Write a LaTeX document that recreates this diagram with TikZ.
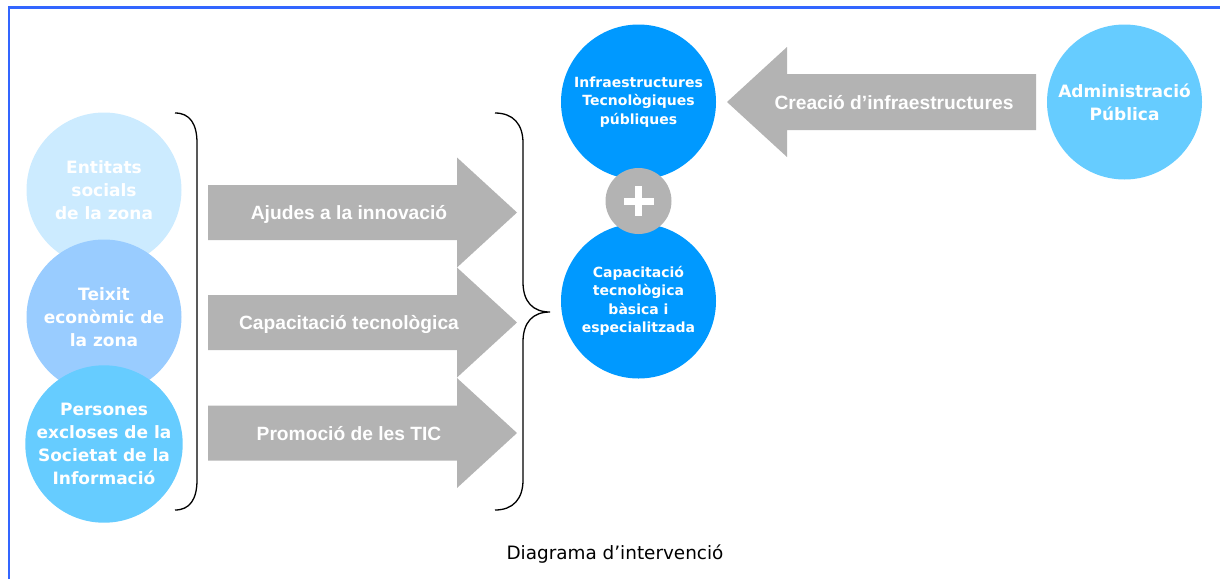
\documentclass[tikz,border=0pt]{standalone}
\usepackage{fontspec}
\setmainfont{DejaVu Sans}
\newfontfamily\circfont{DejaVu Sans}
\newfontfamily\arrfont{Liberation Sans}
\definecolor{frameblue}{HTML}{3366FF}
\definecolor{pale}{HTML}{CCEBFF}
\definecolor{midblue}{HTML}{99CCFF}
\definecolor{skyblue}{HTML}{66CCFF}
\definecolor{deepblue}{HTML}{0099FF}
\definecolor{arrgray}{HTML}{B3B3B3}
\tikzset{
  bubble/.style={circle, minimum size=155pt, inner sep=0pt, align=center, text=white},
  bigtxt/.style={font=\circfont\bfseries\fontsize{17}{23}\selectfont},
  smalltxt/.style={font=\circfont\bfseries\fontsize{14}{18.5}\selectfont},
  arrlabel/.style={text=white, font=\arrfont\bfseries\fontsize{19.2}{22}\selectfont, inner sep=0pt, anchor=base},
  blockarrow/.style={fill=arrgray, draw=none},
  bracketline/.style={draw=black, line width=1.3pt}
}
\begin{document}
\begin{tikzpicture}[x=1pt, y=-1pt]
\useasboundingbox (0,0) rectangle (1220,579);
% frame
\draw[frameblue, line width=2.5pt] (9,579) -- (9,7.5) -- (1220,7.5);

% left circles
\node[bubble, bigtxt, fill=pale] (ent) at (104,190) {Entitats\\socials\\de la zona};
\node[bubble, bigtxt, fill=midblue] (teix) at (104,317) {Teixit\\econòmic de\\la zona};
\node[bubble, bigtxt, fill=skyblue] (pers) at (104,444) {Persones\\excloses de la\\Societat de la\\Informació};

% left bracket
\draw[bracketline] (175,113) .. controls (190,113) and (197,124) .. (197,143) -- (197,480) .. controls (197,499) and (190,510) .. (175,510);

% block arrows
\foreach \yc/\nm in {212.5/a1, 322.5/a2, 433/a3}{
  \fill[blockarrow] (208,\yc-27.5) -- (457,\yc-27.5) -- (457,\yc-55) -- (517,\yc) -- (457,\yc+55) -- (457,\yc+27.5) -- (208,\yc+27.5) -- cycle;
  \coordinate (\nm) at (349,\yc+7);
}
\node[arrlabel] (l1) at (a1) {Ajudes a la innovació};
\node[arrlabel] (l2) at (a2) {Capacitació tecnològica};
\node[arrlabel] (l3) at (a3) {Promoció de les TIC};

% right brace
\draw[bracketline] (495,113) .. controls (513,113) and (523,124) .. (523,143) -- (523,282) .. controls (523,302) and (533,312) .. (550,312) .. controls (533,312) and (523,322) .. (523,342) -- (523,480) .. controls (523,499) and (513,510) .. (495,510);

% right circles
\node[bubble, smalltxt, fill=deepblue] (infra) at (638.5,102) {Infraestructures\\Tecnològiques\\públiques};
\node[bubble, smalltxt, fill=deepblue] (capac) at (638.5,301) {Capacitació\\tecnològica\\bàsica i\\especialitzada};
\node[circle, fill=arrgray, minimum size=66pt, inner sep=0pt] (plus) at (638.5,201) {};
\fill[white] ([xshift=-15pt,yshift=-3.5pt]plus.center) rectangle ([xshift=15pt,yshift=3.5pt]plus.center);
\fill[white] ([xshift=-3.5pt,yshift=-15pt]plus.center) rectangle ([xshift=3.5pt,yshift=15pt]plus.center);

% top arrow
\fill[blockarrow] (1036,74) -- (787,74) -- (787,47) -- (727,102) -- (787,157) -- (787,130) -- (1036,130) -- cycle;
\coordinate (a4) at (894,109);
\node[arrlabel] (l4) at (a4) {Creació d’infraestructures};

\node[bubble, bigtxt, fill=skyblue] (admin) at (1124.5,102) {Administració\\Pública};

% caption
\node[font=\fontsize{18.4}{22}\selectfont, inner sep=0pt, anchor=base] (cap) at (615,559) {Diagrama d’intervenció};
\end{tikzpicture}
\end{document}
